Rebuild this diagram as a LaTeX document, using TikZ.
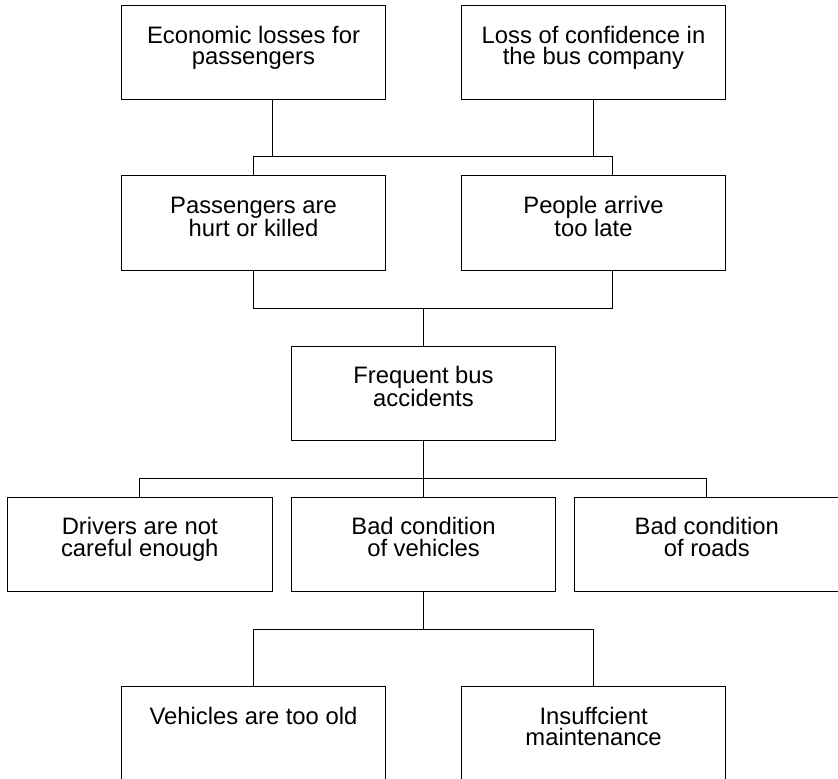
\documentclass[tikz,border=0pt]{standalone}
\usepackage{fontspec}
\setmainfont{Liberation Sans}
\begin{document}
\begin{tikzpicture}[x=1pt,y=-1pt,
  cbox/.style={draw=black, line width=1pt, minimum width=264.4pt, minimum height=94.5pt, inner sep=0pt, outer sep=0pt},
  ctext/.style={anchor=base, inner sep=0pt, font=\fontsize{23.8pt}{21.4pt}\selectfont},
  link/.style={draw=black, line width=1pt}]
\useasboundingbox (0,0) rectangle (838,779);
\clip (0,0) rectangle (838,779);

% boxes
\node[cbox] (b1)  at (253.5,52.65) {};
\node[cbox] (b2)  at (593.5,52.65) {};
\node[cbox] (b3)  at (253.5,222.85) {};
\node[cbox] (b4)  at (593.5,222.85) {};
\node[cbox] (b5)  at (423.5,393.35) {};
\node[cbox] (b6)  at (139.8,544.5) {};
\node[cbox] (b7)  at (423.5,544.5) {};
\node[cbox] (b8)  at (706.8,544.5) {};
\node[cbox] (b9)  at (253.5,733.6) {};
\node[cbox] (b10) at (593.6,733.6) {};

% labels, first baseline a fixed distance below each box top
\newcommand{\boxlabel}[3]{%
  \node[ctext] (#2) at ([yshift=-37.7pt]#1.north) {\parbox[t]{260pt}{\centering #3}};}
\boxlabel{b1}{t1}{Economic losses for\\passengers}
\boxlabel{b2}{t2}{Loss of confidence in\\the bus company}
\boxlabel{b3}{t3}{Passengers are\\hurt or killed}
\boxlabel{b4}{t4}{People arrive\\too late}
\boxlabel{b5}{t5}{Frequent bus\\accidents}
\boxlabel{b6}{t6}{Drivers are not\\careful enough}
\boxlabel{b7}{t7}{Bad condition\\of vehicles}
\boxlabel{b8}{t8}{Bad condition\\of roads}
\boxlabel{b9}{t9}{Vehicles are too old}
\boxlabel{b10}{t10}{Insuffcient\\maintenance}

% junction levels and offset attachment points
\coordinate (bar1) at (0,156.7);
\coordinate (bar2) at (0,308);
\coordinate (bar3) at (0,478.3);
\coordinate (bar4) at (0,629.3);
\coordinate (b1s) at ([xshift=18.8pt]b1.south);
\coordinate (b4n) at ([xshift=18.8pt]b4.north);
\coordinate (b4s) at ([xshift=18.8pt]b4.south);

% top level
\path[link] (b1s) -- (b1s |- bar1);
\path[link] (b2.south) -- (b2.south |- bar1);
\path[link] (b3.north) -- (b3.north |- bar1) -- (b4n |- bar1) -- (b4n);

% second level
\path[link] (b3.south) -- (b3.south |- bar2) -- (b4s |- bar2) -- (b4s);
\path[link] (b5.north |- bar2) -- (b5.north);

% causes of accidents
\path[link] (b5.south) -- (b7.north);
\path[link] (b6.north) -- (b6.north |- bar3) -- (b8.north |- bar3) -- (b8.north);

% causes of bad vehicle condition
\path[link] (b7.south) -- (b7.south |- bar4);
\path[link] (b9.north) -- (b9.north |- bar4) -- (b10.north |- bar4) -- (b10.north);
\end{tikzpicture}
\end{document}
